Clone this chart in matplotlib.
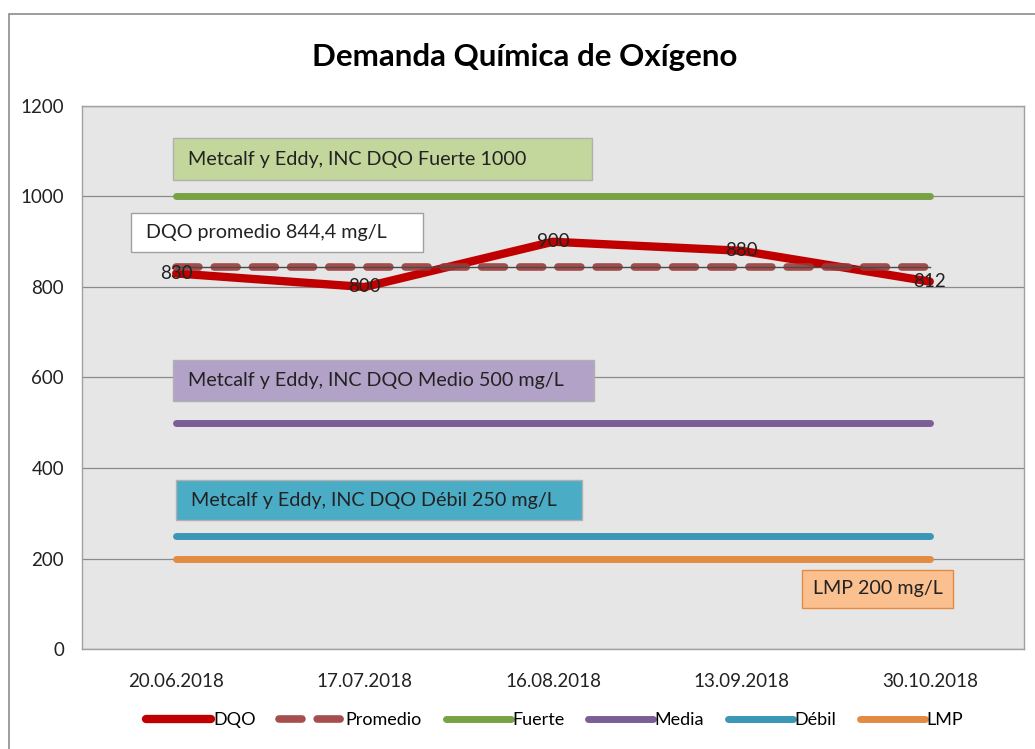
import matplotlib
matplotlib.use("Agg")
import matplotlib.pyplot as plt
from matplotlib.patches import Rectangle

plt.rcParams['font.family'] = ['Lato', 'DejaVu Sans']

fechas = ["20.06.2018", "17.07.2018", "16.08.2018", "13.09.2018", "30.10.2018"]
dqo = [830, 800, 900, 880, 812]
promedio = 844.4
fuerte = 1000
media = 500
debil = 250
lmp = 200
yticks = [0, 200, 400, 600, 800, 1000, 1200]

c_dqo = "#c00000"
c_prom = "#9c3b39"
c_fuerte = "#77a345"
c_media = "#7b5e96"
c_debil = "#3b97b6"
c_lmp = "#e38b43"

fig = plt.figure(figsize=(10.35, 7.49), dpi=100)
fig.patch.set_facecolor("white")
# outer chart frame
fig.patches.append(Rectangle((9/1035, -0.05), 1.2, 1 - 14/749 + 0.05, transform=fig.transFigure,
                             fill=False, edgecolor="#8c8c8c", linewidth=1.2))

ax = fig.add_axes([82/1035, 1 - 649/749, 942/1035, 543/749])
ax.set_facecolor("#e6e6e6")
for s in ax.spines.values():
    s.set_color("#a0a0a0")
    s.set_linewidth(1)

x = list(range(len(fechas)))
ax.set_xlim(-0.5, len(fechas) - 0.5)
ax.set_ylim(0, 1200)
ax.set_yticks(yticks)
ax.set_xticks(x)
ax.set_xticklabels(fechas)
ax.tick_params(length=0, labelsize=13.5, colors="#222222")
ax.tick_params(axis="y", pad=13)
ax.tick_params(axis="x", pad=17)
ax.grid(axis="y", color="#8a8a8a", linewidth=0.9)
ax.set_axisbelow(True)

lw = 5
ax.plot(x, [fuerte]*len(x), color=c_fuerte, lw=lw, solid_capstyle="round", label="Fuerte", zorder=3)
ax.plot(x, [media]*len(x), color=c_media, lw=lw, solid_capstyle="round", label="Media", zorder=3)
ax.plot(x, [debil]*len(x), color=c_debil, lw=lw, solid_capstyle="round", label="Débil", zorder=3)
ax.plot(x, [lmp]*len(x), color=c_lmp, lw=lw, solid_capstyle="round", label="LMP", zorder=3)
ax.plot(x, dqo, color=c_dqo, lw=6, solid_capstyle="round", solid_joinstyle="round", label="DQO", zorder=4)
ax.plot(x, [promedio]*len(x), color=c_prom, lw=5.5, ls=(0, (3.0, 2.0)), dash_capstyle="round",
        alpha=0.9, label="Promedio", zorder=5)
ax.plot(x, [promedio]*len(x), color="#4a4a4a", lw=1, zorder=6)

for xi, v in zip(x, dqo):
    ax.text(xi, v, f"{v}", ha="center", va="center", fontsize=13.5, color="#222222", zorder=7)

def caja(x0, y0, x1, y1, texto, fc, ec, tx, ha="left"):
    ax.add_patch(Rectangle((x0, y0), x1 - x0, y1 - y0, transform=ax.transAxes,
                           facecolor=fc, edgecolor=ec, lw=1, zorder=8))
    ax.text(tx, (y0 + y1) / 2, texto, transform=ax.transAxes, ha=ha, va="center",
            fontsize=14.2, color="#222222", zorder=9)

caja(0.0966, 0.8637, 0.5414, 0.941, "Metcalf y Eddy, INC DQO Fuerte 1000", "#c3d69b", "#b0b0b0", 0.1125)
caja(0.052, 0.7311, 0.362, 0.8029, "DQO promedio 844,4 mg/L", "white", "#a0a0a0", 0.068)
caja(0.0966, 0.4567, 0.5435, 0.5322, "Metcalf y Eddy, INC DQO Medio 500 mg/L", "#b3a2c7", "#b0b0b0", 0.1125)
caja(0.0998, 0.2376, 0.5308, 0.3112, "Metcalf y Eddy, INC DQO Débil 250 mg/L", "#4bacc6", "#b0b0b0", 0.1157)
caja(0.7643, 0.0755, 0.9246, 0.1455, "LMP 200 mg/L", "#fac090", "#e38b43", 0.8445, ha="center")

fig.text(0.507, 0.924, "Demanda Química de Oxígeno", ha="center", va="center",
         fontsize=22.5, fontweight="bold", color="black")

h, l = ax.get_legend_handles_labels()
order = ["DQO", "Promedio", "Fuerte", "Media", "Débil", "LMP"]
hd = dict(zip(l, h))
fig.legend([hd[k] for k in order], order, loc="center", bbox_to_anchor=(0.536, 0.0387),
           ncol=6, frameon=False, fontsize=13, handlelength=3.6, handletextpad=0.1,
           columnspacing=1.3)

fig.savefig("out.png", dpi=100, facecolor="white")
